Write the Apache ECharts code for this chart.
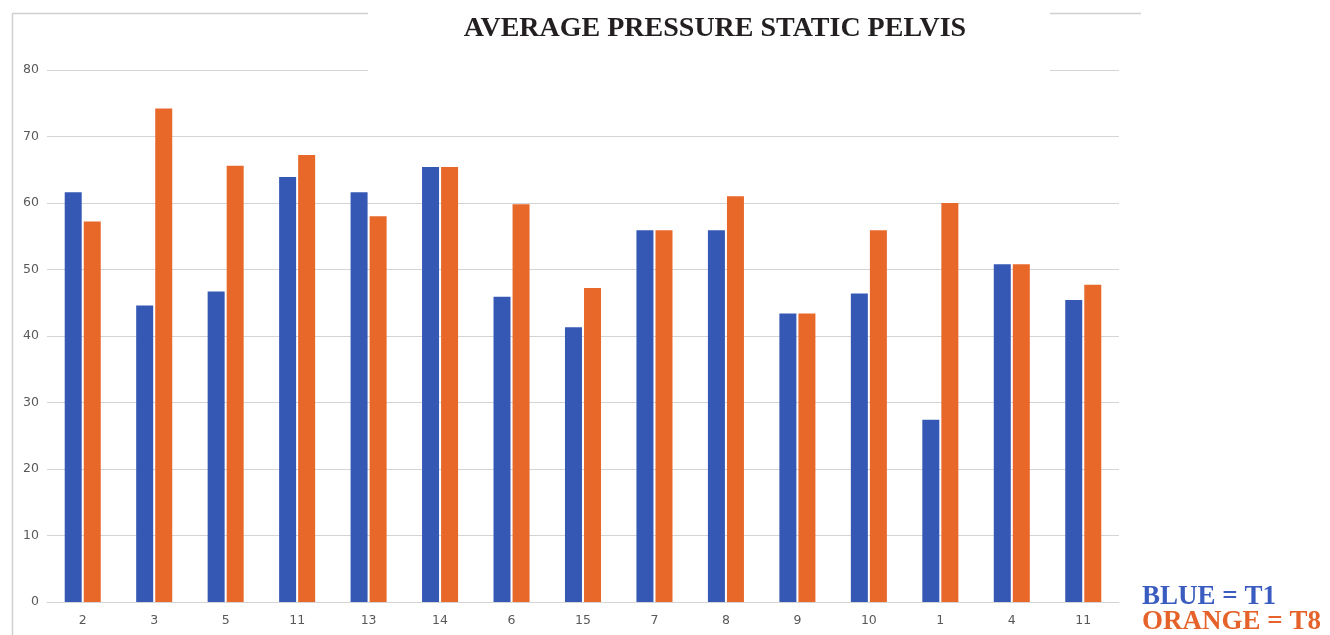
<!DOCTYPE html>
<html>
<head>
<meta charset="utf-8">
<script src="https://cdn.jsdelivr.net/npm/echarts@6/dist/echarts.min.js"></script>
<style>
html,body{margin:0;padding:0;background:#fff;}
#c{width:1330px;height:635px;}
</style>
</head>
<body>
<div id="c"></div>
<script>
var categories = ['2','3','5','11','13','14','6','15','7','8','9','10','1','4','11'];
var t1Values = [61.6, 44.6, 46.7, 63.9, 61.6, 65.4, 45.9, 41.3, 55.9, 55.9, 43.4, 46.4, 27.4, 50.8, 45.4];
var t8Values = [57.2, 74.2, 65.6, 67.2, 58.0, 65.4, 59.8, 47.2, 55.9, 61.0, 43.4, 55.9, 60.0, 50.8, 47.7];
var yTicks = [0, 10, 20, 30, 40, 50, 60, 70, 80];

var chart = echarts.init(document.getElementById('c'), null, {renderer: 'canvas'});
var option = {
  backgroundColor: '#ffffff',
  animation: false,
  title: {
    text: 'AVERAGE PRESSURE STATIC PELVIS',
    left: 710,
    top: 10,
    textAlign: 'center',
    textStyle: {
      fontFamily: 'Liberation Serif',
      fontWeight: 'bold',
      fontSize: 28,
      color: '#231f20'
    },
    z: 20
  },
  grid: {left: 47, right: 211, top: 70, bottom: 33, containLabel: false},
  xAxis: {
    type: 'category',
    data: categories.map(function(c){ return {value: c}; }),
    axisLine: {show: true, lineStyle: {color: '#d4d4d4', width: 1}},
    axisTick: {show: false},
    axisLabel: {color: '#595959', fontFamily: 'DejaVu Sans', fontSize: 12.5, margin: 12, interval: 0}
  },
  yAxis: {
    type: 'value',
    min: 0, max: 80, interval: 10,
    axisLine: {show: false},
    axisTick: {show: false},
    axisLabel: {color: '#595959', fontFamily: 'DejaVu Sans', fontSize: 12.5, margin: 8,
      formatter: function(v){ return yTicks.indexOf(v) >= 0 ? String(v) : ''; }},
    splitLine: {lineStyle: {color: '#d4d4d4', width: 1}}
  },
  series: [
    {name: 'T1', type: 'bar', data: t1Values, barWidth: 17, barGap: '12%',
     itemStyle: {color: '#3658b5'}},
    {name: 'T8', type: 'bar', data: t8Values, barWidth: 17, barGap: '12%',
     itemStyle: {color: '#e8682a'}}
  ],
  graphic: [
    {type: 'line', silent: true, z: 1, shape: {x1: 12, y1: 13.5, x2: 1141, y2: 13.5}, style: {stroke: '#d0d0d0', lineWidth: 1.5}},
    {type: 'line', silent: true, z: 1, shape: {x1: 12.5, y1: 13, x2: 12.5, y2: 635}, style: {stroke: '#d0d0d0', lineWidth: 1.5}},
    {type: 'rect', silent: true, z: 10, shape: {x: 368, y: 0, width: 682, height: 76}, style: {fill: '#ffffff'}},
    {type: 'text', silent: true, z: 20, left: 1142, top: 584,
     style: {text: 'BLUE = T1', fill: '#3a5bbf', font: 'bold 27px "Liberation Serif"'}},
    {type: 'text', silent: true, z: 20, left: 1142, top: 609,
     style: {text: 'ORANGE = T8', fill: '#e5632a', font: 'bold 27px "Liberation Serif"'}}
  ]
};
chart.setOption(option);
</script>
</body>
</html>
